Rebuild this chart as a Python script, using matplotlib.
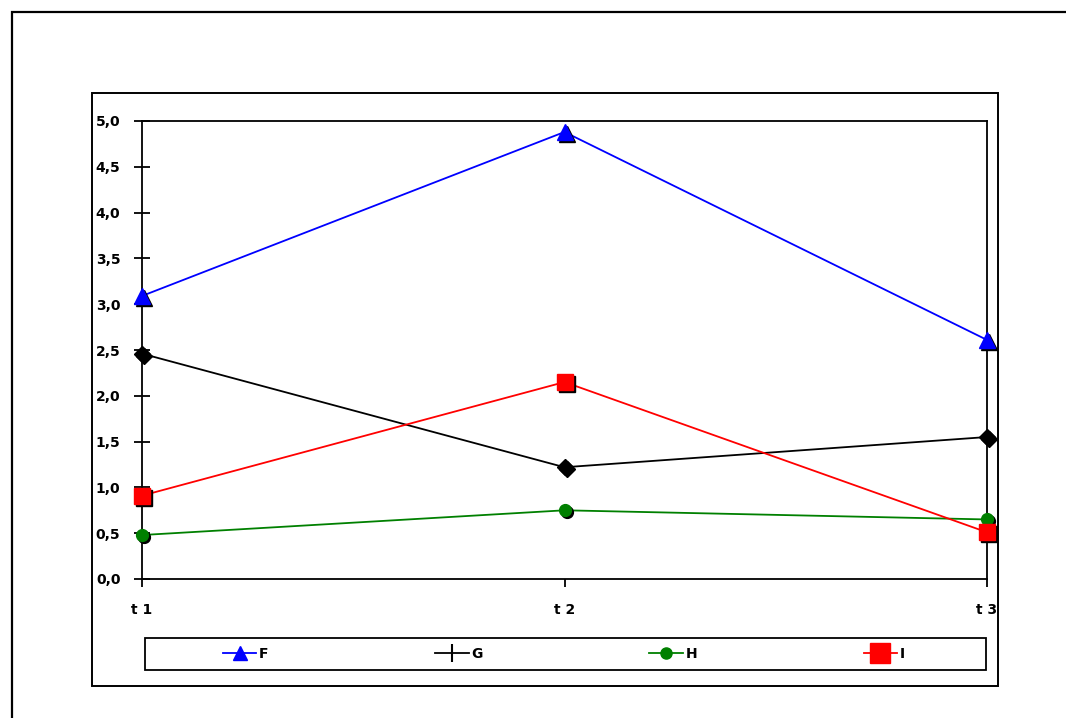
import matplotlib
matplotlib.use("Agg")
import matplotlib.pyplot as plt
import matplotlib.transforms as mtransforms
from matplotlib.lines import Line2D
from matplotlib.patches import Rectangle

# data
periods = ["t 1", "t 2", "t 3"]
f_vals = [3.09, 4.88, 2.61]
g_vals = [2.46, 1.22, 1.55]
h_vals = [0.48, 0.75, 0.65]
i_vals = [0.91, 2.15, 0.51]

series = [
    ("F", f_vals, "#0000ff", "^", 11),
    ("G", g_vals, "#000000", "D", 8),
    ("H", h_vals, "#008000", "o", 8.5),
    ("I", i_vals, "#ff0000", "s", 12),
]

plt.rcParams["font.family"] = ["DejaVu Sans"]
plt.rcParams["font.weight"] = "bold"

W, H = 1066, 718
fig = plt.figure(figsize=(W / 100, H / 100), dpi=100)

# outer chart frame, plot-area frame and legend box (pixel coords)
def px_rect(x0, y0, x1, y1, lw):
    return Rectangle((x0 / W, 1 - y1 / H), (x1 - x0) / W, (y1 - y0) / H,
                     transform=fig.transFigure, fill=False, edgecolor="black",
                     linewidth=lw, zorder=0)

fig.patches.append(px_rect(12, 12, 1080, 730, 1.6))
fig.patches.append(px_rect(92, 93, 998, 686, 1.4))
fig.patches.append(px_rect(145, 638, 986, 670, 1.3))

ax = fig.add_axes([142 / W, 1 - 579 / H, (987 - 142) / W, (579 - 121) / H])
x = list(range(len(periods)))

shadow = mtransforms.offset_copy(ax.transData, fig=fig, x=2, y=-2, units="dots")
for name, vals, color, marker, ms in series:
    ax.plot(x, vals, color=color, lw=1.3, zorder=3, clip_on=False)
    ax.plot(x, vals, ls="none", marker=marker, ms=ms, color="black",
            transform=shadow, zorder=4, clip_on=False)
    ax.plot(x, vals, ls="none", marker=marker, ms=ms, color=color,
            markeredgecolor=color, zorder=5, clip_on=False)

ax.set_xlim(0, 2)
ax.set_ylim(0, 5)
ax.set_yticks([i * 0.5 for i in range(11)])
ax.set_yticklabels([f"{i * 0.5:.1f}".replace(".", ",") for i in range(11)])
ax.set_xticks(x)
ax.set_xticklabels(periods)
ax.tick_params(axis="y", direction="inout", length=11, width=1.3, labelsize=10, pad=10)
ax.tick_params(axis="x", direction="out", length=6, width=1.3, labelsize=10, pad=11)
for lbl in ax.get_xticklabels() + ax.get_yticklabels():
    lbl.set_fontweight("bold")
for s in ax.spines.values():
    s.set_linewidth(1.3)
ax.set_facecolor("none")

# legend, G shows as a cross like in the original
handles = [
    Line2D([], [], color="#0000ff", marker="^", ms=10, lw=1.3),
    Line2D([], [], color="black", marker="|", ms=13, mew=1.5, lw=1.3),
    Line2D([], [], color="#008000", marker="o", ms=8, lw=1.3),
    Line2D([], [], color="#ff0000", marker="s", ms=14, lw=1.3),
]
leg = fig.legend(handles, [s[0] for s in series], ncol=4,
                 bbox_to_anchor=(564 / W, 1 - 654 / H),
                 loc="center", frameon=False, handlelength=2.4,
                 handletextpad=0.2, columnspacing=12.0,
                 prop={"weight": "bold", "size": 10})

fig.savefig("out.png", dpi=100)
